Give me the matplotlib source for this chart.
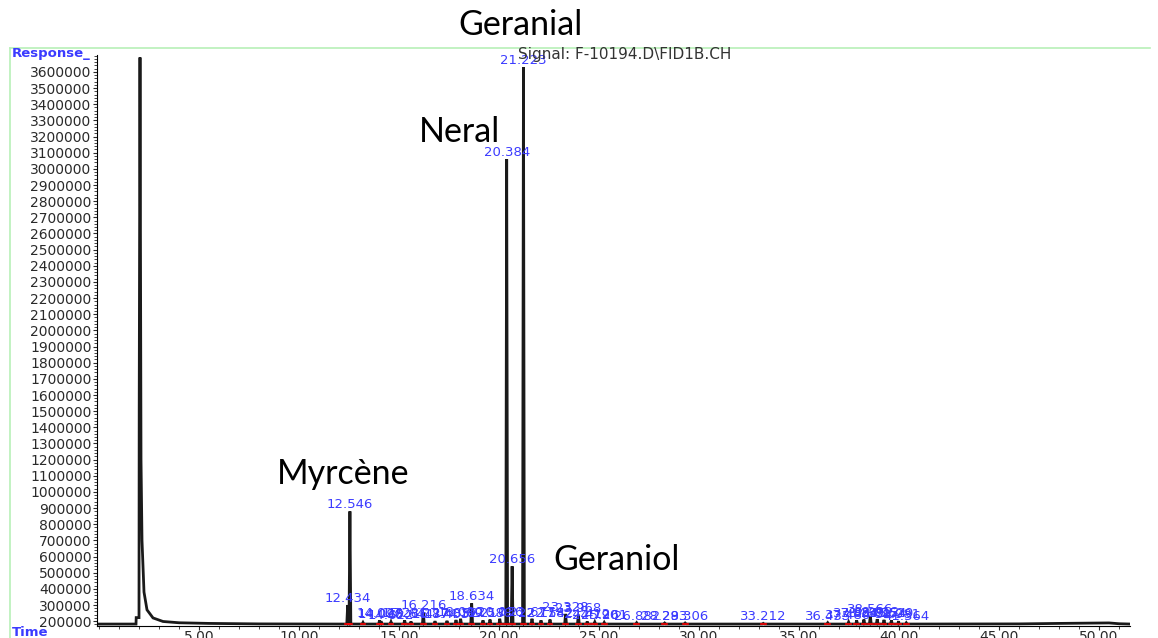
import matplotlib.pyplot as plt
import numpy as np
from matplotlib.lines import Line2D
from matplotlib.ticker import MultipleLocator, FixedLocator

# baseline / solvent front (time in min, response)
base_t = [0.0, 1.85, 1.86, 2.0, 2.01, 2.05, 2.1, 2.15, 2.25, 2.4, 2.7, 3.2, 4.0, 5.5, 8.0, 12.0,
          20.0, 30.0, 40.0, 46.0, 48.0, 50.5, 51.0, 51.6]
base_y = [182000, 182000, 222000, 222000, 1500000, 3690000, 1200000, 700000, 380000, 270000,
          220000, 198000, 190000, 186000, 183000, 182000, 182000, 182000, 182000, 183000,
          186000, 189000, 184000, 182000]

# peaks: retention time, height, label
peak_t = [12.434, 12.546, 13.20, 14.027, 14.098, 14.60, 15.281, 15.60, 16.216, 16.80,
          17.40, 17.85, 18.080, 18.634, 19.20, 19.55, 20.036, 20.384, 20.656, 21.223,
          21.65, 22.10, 22.55, 23.328, 23.968, 24.412, 24.790, 25.261, 26.882, 28.283,
          29.306, 33.212, 36.435, 37.48, 37.883, 38.245, 38.566, 38.91, 39.25, 39.62,
          39.98, 40.364]
peak_h = [300000, 880000, 192000, 205000, 200000, 196000, 205000, 198000, 255000, 200000,
          202000, 207000, 215000, 310000, 205000, 210000, 215000, 3060000, 540000, 3630000,
          215000, 205000, 210000, 245000, 240000, 198000, 195000, 192000, 190000, 188000,
          188000, 186000, 190000, 195000, 205000, 210000, 232000, 212000, 208000, 205000,
          200000, 190000]
peak_lab = ["12.434", "12.546", "", "14.027", "14.098", "14.622", "15.281", "15.644", "16.216", "16.874",
            "17.403", "17.852", "18.080", "18.634", "19.217", "19.588", "20.036", "20.384", "20.656", "21.223",
            "21.677", "22.118", "22.542", "23.328", "23.968", "24.412", "24.790", "25.261", "26.882", "28.283",
            "29.306", "33.212", "36.435", "37.480", "37.883", "38.245", "38.566", "38.912", "39.254", "39.620",
            "39.981", "41.364"]

# big compound names: text, x (min), y (response)
names = ["Geranial", "Neral", "Myrcène", "Geraniol"]
name_x = [21.05, 18.05, 12.2, 25.9]
name_y = [3890000, 3228000, 1110000, 578000]

# build trace: baseline + narrow triangular peaks
tt = list(base_t)
yy = list(base_y)
for t, h in zip(peak_t, peak_h):
    tt += [t - 0.045, t, t + 0.045]
    b = np.interp(t, base_t, base_y)
    yy += [b, h, b]
order = np.argsort(tt, kind="stable")
tt = np.array(tt)[order]
yy = np.array(yy)[order]

fig = plt.figure(figsize=(11.58, 6.38), dpi=100)
ax = fig.add_axes([97 / 1158, 12 / 638, (1130 - 97) / 1158, (626 - 55) / 638])

ax.plot(tt, yy, color="#1a1a1a", lw=2.0, solid_joinstyle="miter")

blue = "#3b3bff"
for t, h, lab in zip(peak_t, peak_h, peak_lab):
    if lab:
        ax.text(t, h, lab, color=blue, fontsize=9.5, ha="center", va="bottom",
                family="DejaVu Sans")
    b = np.interp(t, base_t, base_y)
    ax.plot([t - 0.12, t + 0.12], [b, b], color="red", lw=1.2)

ax.set_xlim(-0.1, 51.55)
ax.set_ylim(170000, 3705000)
ax.xaxis.set_major_locator(FixedLocator([5, 10, 15, 20, 25, 30, 35, 40, 45, 50]))
ax.xaxis.set_minor_locator(MultipleLocator(1))
ax.yaxis.set_major_locator(FixedLocator(np.arange(200000, 3700000, 100000)))
ax.yaxis.set_minor_locator(MultipleLocator(20000))
ax.xaxis.set_major_formatter(plt.FuncFormatter(lambda v, p: "%.2f" % v))
ax.yaxis.set_major_formatter(plt.FuncFormatter(lambda v, p: "%d" % v))
ax.tick_params(axis="both", which="major", labelsize=10, colors="#2a2a2a", length=3, pad=1)
ax.tick_params(axis="x", which="major", pad=0)
ax.tick_params(axis="both", which="minor", length=2, colors="#2a2a2a")
for lab in ax.get_xticklabels() + ax.get_yticklabels():
    lab.set_family("DejaVu Sans")
ax.spines["top"].set_visible(False)
ax.spines["right"].set_visible(False)

# green frame like the instrument printout
fig.add_artist(Line2D([10 / 1158, 1150 / 1158], [1 - 48 / 638, 1 - 48 / 638],
                      color="#b8f0b8", lw=1.2, transform=fig.transFigure))
fig.add_artist(Line2D([10 / 1158, 10 / 1158], [0, 1 - 48 / 638],
                      color="#b8f0b8", lw=1.2, transform=fig.transFigure))

fig.text(12 / 1158, 1 - 53 / 638, "Response_", color=blue, fontsize=9.5, va="center",
         family="DejaVu Sans", weight="bold")
fig.text(12 / 1158, 1 - 632 / 638, "Time", color=blue, fontsize=9.5, va="center",
         family="DejaVu Sans", weight="bold")
fig.text(518 / 1158, 1 - 54 / 638, "Signal: F-10194.D\\FID1B.CH", color="#333333",
         fontsize=11, va="center", family="DejaVu Sans")

for n, x, y in zip(names, name_x, name_y):
    ax.text(x, y, n, fontsize=24.5, ha="center", va="center", family="Lato", clip_on=False)

fig.savefig("out.png", dpi=100)
